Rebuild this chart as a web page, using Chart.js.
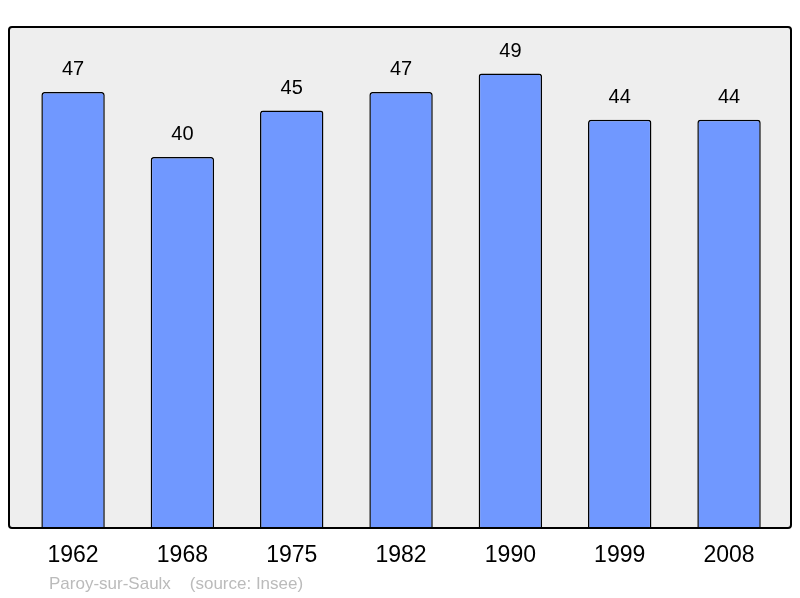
<!DOCTYPE html>
<html>
<head>
<meta charset="utf-8">
<script src="https://cdn.jsdelivr.net/npm/chart.js@4/dist/chart.umd.min.js"></script>
<style>
  html, body { margin: 0; padding: 0; background: #fff; }
  #wrap { width: 800px; height: 598px; }
</style>
</head>
<body>
<div id="wrap"><canvas id="pop"></canvas></div>
<script>
const years = ['1962', '1968', '1975', '1982', '1990', '1999', '2008'];
const population = [47, 40, 45, 47, 49, 44, 44];
const yMax = 54;

// grey frame behind the bars + year / value labels
const framePlugin = {
  id: 'frame',
  beforeDatasetsDraw(chart) {
    const ctx = chart.ctx;
    const top = chart.chartArea.top, bottom = chart.chartArea.bottom;
    ctx.save();
    ctx.beginPath();
    ctx.roundRect(9, top, 782, bottom - top, 3);
    ctx.fillStyle = '#eeeeee';
    ctx.fill();
    ctx.restore();
  },
  afterDatasetsDraw(chart) {
    const ctx = chart.ctx;
    const x = chart.scales.x, y = chart.scales.y;
    const top = chart.chartArea.top, bottom = chart.chartArea.bottom;
    ctx.save();
    ctx.beginPath();
    ctx.roundRect(9, top, 782, bottom - top, 3);
    ctx.lineWidth = 2;
    ctx.strokeStyle = '#000';
    ctx.stroke();

    ctx.textAlign = 'center';
    ctx.textBaseline = 'middle';
    ctx.fillStyle = '#000';
    ctx.font = '20px "Liberation Sans", Arial, sans-serif';
    population.forEach((v, i) => {
      ctx.fillText(String(v), x.getPixelForValue(i), y.getPixelForValue(v) - 22);
    });
    ctx.font = '23px "Liberation Sans", Arial, sans-serif';
    years.forEach((yr, i) => {
      ctx.fillText(yr, x.getPixelForValue(i), 556);
    });
    ctx.textAlign = 'left';
    ctx.fillStyle = '#bbbbbb';
    ctx.font = '17px "Liberation Sans", Arial, sans-serif';
    ctx.fillText('Paroy-sur-Saulx    (source: Insee)', 49, 584);
    ctx.restore();
  }
};

new Chart(document.getElementById('pop'), {
  type: 'bar',
  data: {
    labels: years,
    datasets: [{
      data: population,
      backgroundColor: '#7098ff',
      borderColor: '#000',
      borderWidth: 1.5,
      borderRadius: 3,
      borderSkipped: 'bottom',
      barPercentage: 0.58,
      categoryPercentage: 1
    }]
  },
  options: {
    responsive: true,
    maintainAspectRatio: false,
    animation: false,
    layout: { padding: { left: 18.4, right: 16.3, top: 27, bottom: 70 } },
    plugins: { legend: { display: false }, tooltip: { enabled: false } },
    scales: {
      x: { display: false },
      y: { display: false, min: 0, max: yMax }
    }
  },
  plugins: [framePlugin]
});
</script>
</body>
</html>
